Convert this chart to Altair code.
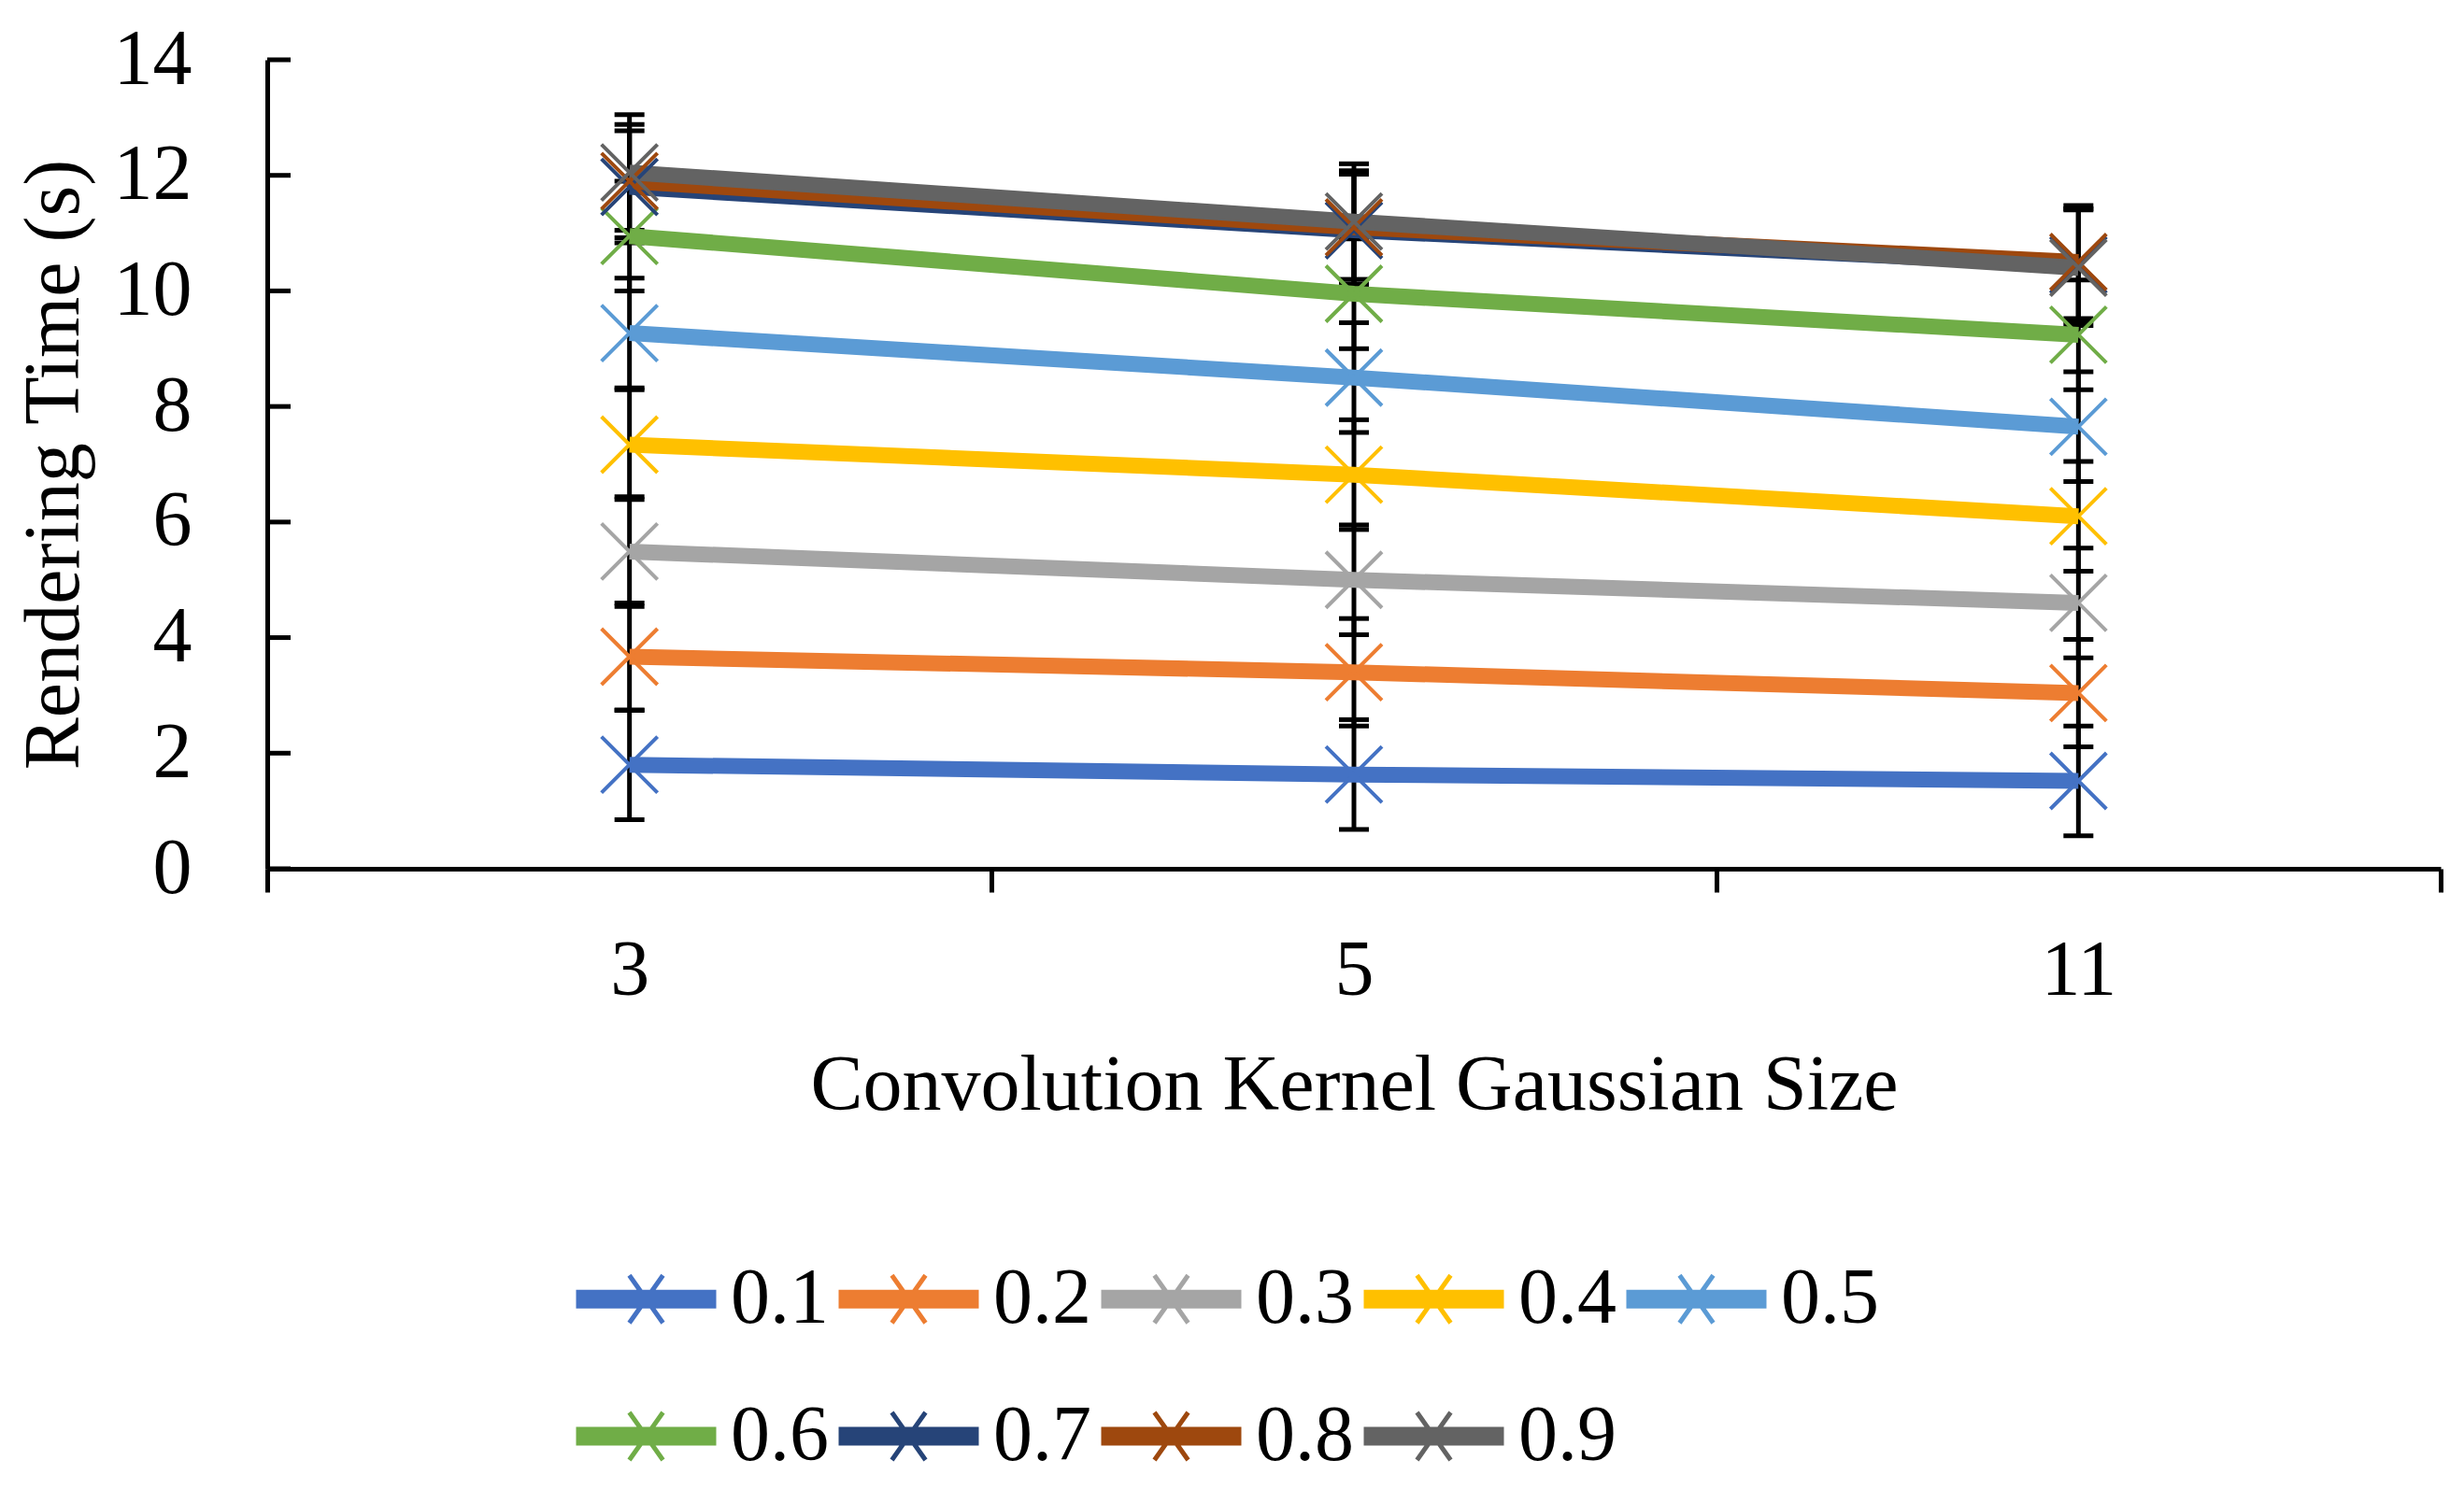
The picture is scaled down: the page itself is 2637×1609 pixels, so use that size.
import altair as alt
import pandas as pd

# ---- data ----
sizes = ["3", "5", "11"]
series = ["0.1", "0.2", "0.3", "0.4", "0.5", "0.6", "0.7", "0.8", "0.9"]
t_01 = [1.80, 1.63, 1.52]
t_02 = [3.67, 3.40, 3.04]
t_03 = [5.49, 5.00, 4.60]
t_04 = [7.34, 6.82, 6.10]
t_05 = [9.27, 8.50, 7.65]
t_06 = [10.95, 9.95, 9.24]
t_07 = [11.80, 11.05, 10.45]
t_08 = [11.90, 11.10, 10.50]
t_09 = [12.05, 11.20, 10.40]
values = [t_01, t_02, t_03, t_04, t_05, t_06, t_07, t_08, t_09]
errors = [0.95, 0.93, 0.95, 0.95, 0.95, 0.95, 0.97, 0.98, 1.00]
colors = ["#4472C4", "#ED7D31", "#A5A5A5", "#FFC000", "#5B9BD5",
          "#70AD47", "#264478", "#9E480E", "#636363"]
y_ticks = [0, 2, 4, 6, 8, 10, 12, 14]

rows = []
for s, vals, e in zip(series, values, errors):
    for k, v in zip(sizes, vals):
        rows.append({"series": s, "size": k, "time": v, "lo": v - e, "hi": v + e})
df = pd.DataFrame(rows)
tick_df = pd.DataFrame({"v": y_ticks})

FONT = "Liberation Serif"
FS = 84
Y_TITLE = "Rendering Time (s)"
X_TITLE = "Convolution Kernel Gaussian Size"

x_axis = alt.Axis(title=X_TITLE, labelAngle=0, tickBand="extent", tickSize=25,
                  tickWidth=5, tickColor="black", labelPadding=43, titlePadding=40,
                  grid=False)
x_enc = alt.X("size:N", sort=sizes,
              scale=alt.Scale(type="band", paddingInner=0, paddingOuter=0),
              axis=x_axis)

y_axis = alt.Axis(title=Y_TITLE, values=y_ticks, ticks=False, tickSize=0,
                  labelPadding=81, titlePadding=20, grid=False)
y_scale = alt.Scale(domain=[0, 14], nice=False)


def ay(field):
    return alt.Y(field, scale=y_scale, axis=y_axis, title=Y_TITLE)


X_PATH = "M-1,-1L1,1M-1,1L1,-1"
LEG_PATH = ("M-1,0L1,0M-1,-0.05L1,-0.05M-1,0.05L1,0.05"
            "M-1,-0.1L1,-0.1M-1,0.1L1,0.1"
            "M-0.24,-0.34L0.24,0.34M-0.24,0.34L0.24,-0.34")

color_enc = alt.Color(
    "series:N", scale=alt.Scale(domain=series, range=colors),
    legend=alt.Legend(title=None, orient="none", legendX=328, legendY=1249,
                      columns=5, direction="horizontal",
                      symbolType=LEG_PATH, symbolSize=22500,
                      symbolStrokeWidth=5, labelFont=FONT, labelFontSize=FS,
                      labelColor="black", labelOffset=13, columnPadding=0,
                      rowPadding=27, padding=0))

base = alt.Chart(df)

err_rule = base.mark_rule(color="black", strokeWidth=5).encode(
    x=x_enc, y=ay("lo:Q"), y2="hi:Q")
cap_lo = base.mark_tick(color="black", thickness=5, size=32, opacity=1).encode(
    x=x_enc, y=ay("lo:Q"))
cap_hi = base.mark_tick(color="black", thickness=5, size=32, opacity=1).encode(
    x=x_enc, y=ay("hi:Q"))

y_tick_marks = alt.Chart(tick_df).mark_rule(color="black", strokeWidth=5).encode(
    y=ay("v:Q"), x=alt.value(0), x2=alt.value(25))

lines = base.mark_line(strokeWidth=17).encode(
    x=x_enc, y=ay("time:Q"), color=color_enc)

points = base.mark_point(shape=X_PATH, filled=False, size=3600, strokeWidth=4,
                         opacity=1).encode(
    x=x_enc, y=ay("time:Q"), color=color_enc)

chart = alt.layer(err_rule, cap_lo, cap_hi, y_tick_marks, lines, points).properties(
    width=2326, height=866,
    autosize=alt.AutoSizeParams(type="none"),
    padding={"left": 278, "top": 56, "right": 17, "bottom": 671},
).configure_view(stroke=None).configure_axis(
    domainColor="black", domainWidth=5,
    labelFont=FONT, labelFontSize=FS, labelColor="black",
    titleFont=FONT, titleFontSize=FS, titleColor="black", titleFontWeight="normal",
)

chart.save("out.html", embed_options={"renderer": "svg", "actions": False})
